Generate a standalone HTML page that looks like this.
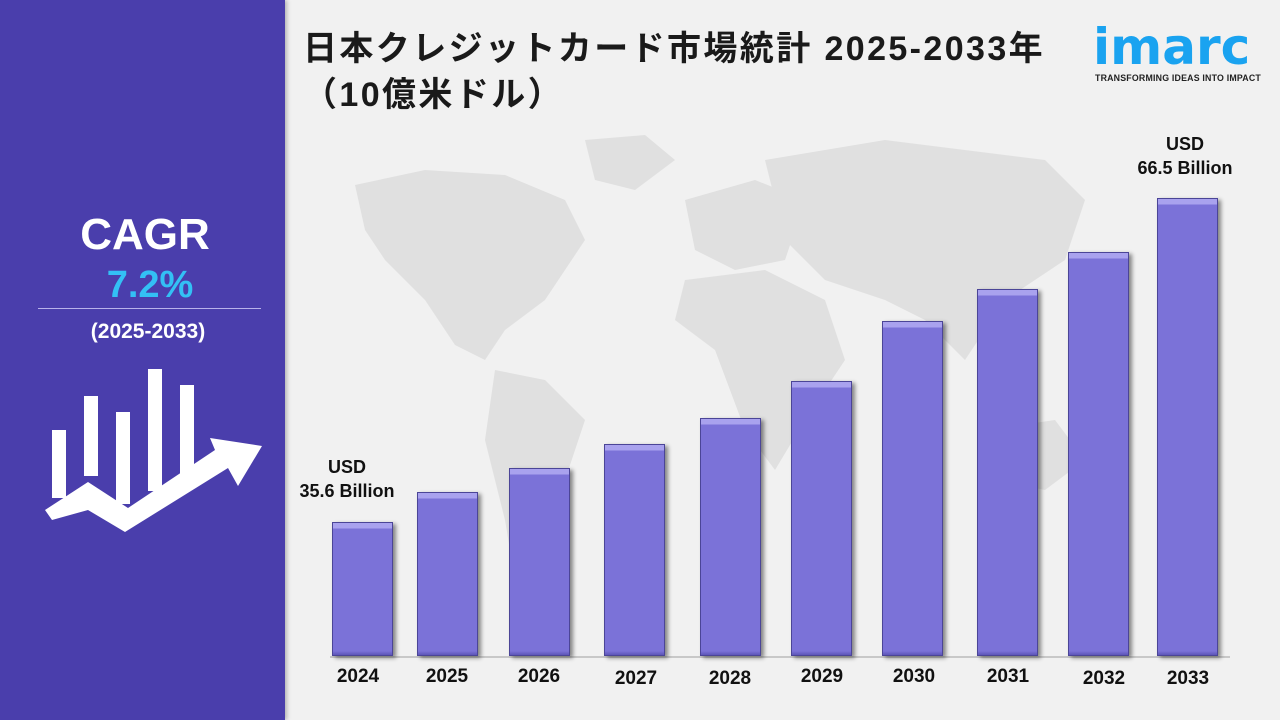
<!DOCTYPE html>
<html><head><meta charset="utf-8"><style>
*{margin:0;padding:0;box-sizing:border-box}
body{width:1280px;height:720px;background:#f1f1f1;position:relative;overflow:hidden;font-family:"Liberation Sans","Noto Sans CJK JP",sans-serif}
.left{position:absolute;left:0;top:0;width:285px;height:720px;background:#4a3eac;box-shadow:2px 0 4px rgba(0,0,0,.25)}
.t{position:absolute;text-align:center;font-weight:bold;color:#fff}
.bar{position:absolute;width:61px;background:#7b72d8;border:1px solid #4b4597;box-shadow:3px 2px 4px rgba(0,0,0,.45);background-image:linear-gradient(to bottom,#a9a2ee 0,#a9a2ee 5px,#7b72d8 6px,#7b72d8 calc(100% - 4px),#5d55b8 100%)}
.yr{position:absolute;top:666px;width:80px;text-align:center;font-weight:bold;font-size:19px;color:#111}
.lab{position:absolute;font-weight:bold;font-size:18px;color:#111;text-align:center;line-height:24px}
</style></head><body>
<svg style="position:absolute;left:285px;top:0" width="995" height="720">
<g fill="#e0e0e0">
<path d="M70 185 L140 170 L220 175 L280 200 L300 240 L260 300 L220 330 L200 360 L170 345 L140 300 L100 260 L80 230Z"/>
<path d="M300 140 L360 135 L390 160 L350 190 L310 180Z"/>
<path d="M210 370 L260 380 L300 420 L280 480 L250 540 L230 580 L220 520 L200 440Z"/>
<path d="M400 200 L470 180 L520 200 L500 260 L450 270 L410 250Z"/>
<path d="M400 280 L480 270 L540 300 L560 360 L520 420 L490 470 L460 430 L430 350 L390 320Z"/>
<path d="M480 160 L600 140 L760 160 L800 200 L780 260 L720 300 L680 360 L640 320 L600 300 L540 280 L500 240Z"/>
<path d="M700 430 L770 420 L800 460 L760 490 L710 480Z"/>
</g></svg>
<div class="left"></div>
<div class="t" style="left:0;width:290px;top:210px;font-size:44px">CAGR</div>
<div class="t" style="left:0;width:300px;top:264px;font-size:38px;color:#33c0f5;font-weight:bold">7.2%</div>
<div style="position:absolute;left:38px;top:308px;width:223px;height:1px;background:#b8b2ea"></div>
<div class="t" style="left:0;width:296px;top:320px;font-size:21px">(2025-2033)</div>
<svg style="position:absolute;left:0;top:360px" width="290" height="180">
<g fill="#fff">
<rect x="52" y="70" width="14" height="68"/>
<rect x="84" y="36" width="14" height="80"/>
<rect x="116" y="52" width="14" height="92"/>
<rect x="148" y="9" width="14" height="122"/>
<rect x="180" y="25" width="14" height="90"/>
<path d="M45 150 L88 122 L128 148 L215 90 L210 78 L262 86 L238 126 L228 108 L125 172 L88 150 L52 160Z"/>
</g></svg>
<div style="position:absolute;left:303px;top:26px;font-size:34px;letter-spacing:2.4px;font-weight:bold;color:#1a1a1a;line-height:46px;white-space:nowrap">日本クレジットカード市場統計 2025-2033年<br>（10億米ドル）</div>
<div style="position:absolute;left:1093px;top:22px;font-size:50px;color:#1aa3f0;font-weight:bold;letter-spacing:0;line-height:50px;font-family:'DejaVu Sans',sans-serif">imarc</div>
<div style="position:absolute;left:1095px;top:73px;font-size:8.8px;font-weight:bold;color:#222;letter-spacing:.2px;white-space:nowrap">TRANSFORMING IDEAS INTO IMPACT</div>
<div style="position:absolute;left:330px;top:656px;width:900px;height:2px;background:#c8c8c8"></div>
<div class="bar" style="left:332px;top:522px;height:134px"></div>
<div class="bar" style="left:417px;top:492px;height:164px"></div>
<div class="bar" style="left:509px;top:468px;height:188px"></div>
<div class="bar" style="left:604px;top:444px;height:212px"></div>
<div class="bar" style="left:700px;top:418px;height:238px"></div>
<div class="bar" style="left:791px;top:381px;height:275px"></div>
<div class="bar" style="left:882px;top:321px;height:335px"></div>
<div class="bar" style="left:977px;top:289px;height:367px"></div>
<div class="bar" style="left:1068px;top:252px;height:404px"></div>
<div class="bar" style="left:1157px;top:198px;height:458px"></div>
<div class="yr" style="left:318px">2024</div>
<div class="yr" style="left:407px">2025</div>
<div class="yr" style="left:499px">2026</div>
<div class="yr" style="left:596px;top:668px">2027</div>
<div class="yr" style="left:690px;top:668px">2028</div>
<div class="yr" style="left:782px">2029</div>
<div class="yr" style="left:874px">2030</div>
<div class="yr" style="left:968px">2031</div>
<div class="yr" style="left:1064px;top:668px">2032</div>
<div class="yr" style="left:1148px;top:668px">2033</div>
<div class="lab" style="left:287px;top:455px;width:120px">USD<br>35.6 Billion</div>
<div class="lab" style="left:1125px;top:132px;width:120px">USD<br>66.5 Billion</div>
</body></html>
